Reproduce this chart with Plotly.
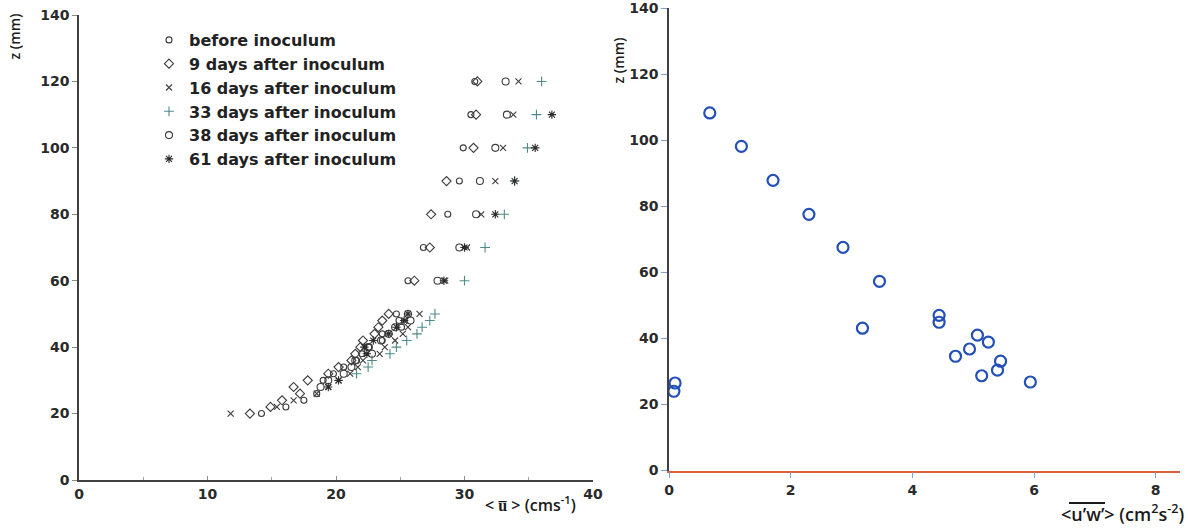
import plotly.graph_objects as go

W, H = 1188, 529

# heights (mm) of the velocity profiles
z_rows = [20, 22, 24, 26, 28, 30, 32, 34, 36, 38, 40, 42, 44, 46, 48, 50,
          60, 70, 80, 90, 100, 110, 120]

# mean streamwise velocity <u> (cm/s) per campaign; None = not measured
u_before = [14.2, 16.1, 17.5, 18.5, None, 19.0, 19.8, 20.6, 21.6, 22.0, 22.6, 23.6, 23.6, 25.1, 24.9, 24.7,
            25.6, 26.8, 28.7, 29.6, 29.9, 30.5, 30.8]
u_d9 = [13.3, 14.9, 15.8, 17.2, 16.7, 17.8, 19.4, 20.2, 21.2, 21.5, 21.9, 22.1, 23.0, 23.3, 23.6, 24.1,
        26.1, 27.3, 27.4, 28.6, 30.7, 30.9, 31.0]
u_d16 = [11.8, 15.4, 16.7, 18.5, 19.4, 20.2, 21.1, 21.7, 22.1, 23.4, 23.8, 24.6, 25.2, 25.6, 25.4, 26.5,
         28.5, 30.2, 31.3, 32.4, 33.0, 33.8, 34.2]
u_d33 = [None, None, None, None, None, None, 21.6, 22.5, 22.8, 24.2, 24.7, 25.5, 26.3, 26.7, 27.3, 27.7,
         30.0, 31.6, 33.1, 33.9, 34.9, 35.6, 36.0]
u_d38 = [None, None, None, None, 18.8, 19.4, 20.6, 21.2, 21.5, 22.8, 22.5, 23.5, 24.1, 24.6, 25.8, 25.6,
         27.9, 29.6, 30.9, 31.2, 32.4, 33.3, 33.2]
u_d61 = [None, None, None, None, 19.4, 20.2, None, None, None, 22.4, 22.2, 22.9, 24.1, 24.7, 25.3, 25.6,
         28.4, 30.0, 32.4, 33.9, 35.5, 36.8, None]

# Reynolds shear stress profile
uw = [0.10, 0.08, 0.67, 1.19, 1.71, 2.30, 2.86, 3.46, 3.18, 4.44, 4.44,
      5.07, 5.25, 4.94, 4.71, 5.45, 5.40, 5.14, 5.94]
z_uw = [26.5, 24.0, 108.3, 98.2, 87.9, 77.6, 67.6, 57.3, 43.1, 47.0, 44.9,
        41.0, 38.9, 36.8, 34.6, 33.1, 30.4, 28.7, 26.8]

series = [
    ("before inoculum", u_before, "circle-open", 6, "#3c3c3c"),
    ("9 days after inoculum", u_d9, "diamond-open", 7, "#3c3c3c"),
    ("16 days after inoculum", u_d16, "x-thin-open", 6, "#3c3c3c"),
    ("33 days after inoculum", u_d33, "cross-thin-open", 7, "#4f8a8a"),
    ("38 days after inoculum", u_d38, "circle-open", 7, "#3c3c3c"),
    ("61 days after inoculum", u_d61, "asterisk-open", 7, "#2a2a2a"),
]


def px(x):
    return x / W


def py(y):
    return 1 - y / H


fig = go.Figure()
for name, u, sym, size, col in series:
    fig.add_trace(go.Scatter(
        x=u, y=z_rows, mode="markers", name=name,
        marker=dict(symbol=sym, size=size, color=col, line=dict(width=1.1, color=col)),
        xaxis="x", yaxis="y"))

fig.add_trace(go.Scatter(
    x=uw, y=z_uw, mode="markers", showlegend=False,
    marker=dict(symbol="circle-open", size=11, color="#2350b8", line=dict(width=2.2, color="#2350b8")),
    xaxis="x2", yaxis="y2"))

tick_font = dict(family="DejaVu Sans", size=14, color="#2a2a2a", weight="bold")
label_font = dict(family="DejaVu Sans", size=16, color="#222222", weight="bold")

fig.update_layout(
    width=W, height=H,
    margin=dict(l=0, r=0, t=0, b=0),
    paper_bgcolor="white", plot_bgcolor="white",
    showlegend=True,
    legend=dict(x=px(149), y=py(23), xanchor="left", yanchor="top",
                font=label_font, bgcolor="rgba(0,0,0,0)", tracegroupgap=0,
                itemsizing="trace"),
    xaxis=dict(domain=[px(79), px(593)], range=[0, 40], anchor="y",
               showgrid=False, zeroline=False, showline=True, linecolor="#404040", linewidth=1.5,
               tickvals=[0, 10, 20, 30, 40], ticks="inside", ticklen=4, tickcolor="#8a8a8a",
               minor=dict(tickvals=[5, 15, 25, 35], ticks="inside", ticklen=3, tickcolor="#a0a0a0"),
               tickfont=tick_font, automargin=False),
    yaxis=dict(domain=[py(480), py(15)], range=[0, 140], anchor="x",
               showgrid=False, zeroline=False, showline=True, linecolor="#404040", linewidth=1.5,
               tickvals=list(range(0, 141, 20)), ticks="outside", ticklen=5, tickcolor="#8a8a8a",
               tickfont=tick_font, automargin=False),
    xaxis2=dict(domain=[px(669), px(1180)], range=[0, 8.4], anchor="y2",
                showgrid=False, zeroline=False, showline=True, linecolor="#d9603f", linewidth=1.5,
                tickvals=[0, 2, 4, 6, 8], ticks="outside", ticklen=6, tickcolor="#7fa0c8",
                tickfont=tick_font, automargin=False),
    yaxis2=dict(domain=[py(470.5), py(8.3)], range=[0, 140], anchor="x2",
                showgrid=False, zeroline=False, showline=True, linecolor="#404040", linewidth=1.5,
                tickvals=list(range(0, 141, 20)), ticks="outside", ticklen=6, tickcolor="#7fa0c8",
                tickfont=tick_font, automargin=False),
)

ztitle_font = dict(family="Open Sans", size=14, color="#1a1a1a", weight=600)
fig.add_annotation(x=px(2), y=py(12), xref="paper", yref="paper", xanchor="left", yanchor="top",
                   text="z (mm)", textangle=-90, showarrow=False, font=ztitle_font)
fig.add_annotation(x=px(607), y=py(36), xref="paper", yref="paper", xanchor="left", yanchor="top",
                   text="z (mm)", textangle=-90, showarrow=False, font=ztitle_font)
fig.add_annotation(x=px(530), y=py(518), xref="paper", yref="paper",
                   text="< u\u0305 > (cms<sup>-1</sup>)", showarrow=False,
                   font=dict(family="Open Sans", size=16, color="#1a1a1a", weight=600))
fig.add_annotation(x=px(1186), y=py(528), xref="paper", yref="paper", xanchor="right", yanchor="bottom",
                   text="<u’w’> (cm<sup>2</sup>s<sup>-2</sup>)", showarrow=False,
                   font=dict(family="Open Sans", size=18, color="#1a1a1a", weight=600))

# bar over the averaged product u'w'
fig.add_shape(type="line", xref="paper", yref="paper",
              x0=px(1069), x1=px(1105), y0=py(503), y1=py(503),
              line=dict(color="#1a1a1a", width=2))

fig.write_html("out.html")
